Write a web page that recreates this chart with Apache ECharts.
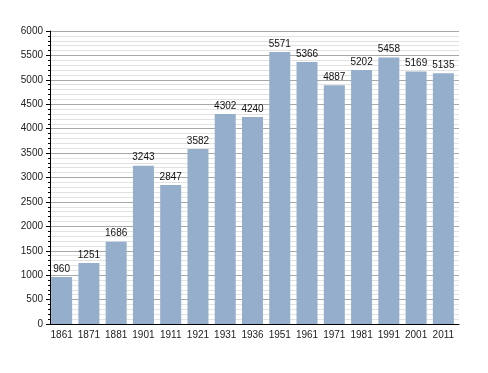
<!DOCTYPE html>
<html><head><meta charset="utf-8">
<script src="https://cdn.jsdelivr.net/npm/echarts@6/dist/echarts.min.js"></script>
<style>html,body{margin:0;padding:0;background:#fff}#c{width:488px;height:373px}</style>
</head><body><div id="c"></div>
<script>
const categories = ['1861','1871','1881','1901','1911','1921','1931','1936','1951','1961','1971','1981','1991','2001','2011'];
const population = [960,1251,1686,3243,2847,3582,4302,4240,5571,5366,4887,5202,5458,5169,5135];
const yMin = 0, yMax = 6000, yStep = 500;

const font = 'Liberation Sans, Arial';
const chart = echarts.init(document.getElementById('c'));
chart.setOption({
  animation: false,
  grid: [
    {left: 50, right: 29, top: 31, bottom: 49},
    {left: 48, right: 31, top: 31, bottom: 49}
  ],
  xAxis: [
    {type: 'category', gridIndex: 0, data: categories,
     axisLine: {lineStyle: {color: '#000', width: 1}},
     axisTick: {show: false}, axisLabel: {show: false}},
    {type: 'category', gridIndex: 1, data: categories,
     axisLine: {show: false}, axisTick: {show: false},
     axisLabel: {interval: 0, color: '#222', fontSize: 10, fontFamily: font, margin: 6}}
  ],
  yAxis: [
    {type: 'value', gridIndex: 0, min: yMin, max: yMax, interval: yStep,
     axisLine: {show: true, lineStyle: {color: '#000', width: 1}},
     axisTick: {show: true, length: 4, lineStyle: {color: '#000'}},
     minorTick: {show: true, splitNumber: 5, length: 2, lineStyle: {color: '#000'}},
     splitLine: {lineStyle: {color: '#a8a8a8', width: 1}},
     minorSplitLine: {show: true, lineStyle: {color: '#e2e2e2', width: 1}},
     axisLabel: {color: '#222', fontSize: 10, fontFamily: font, margin: 7, formatter: v => String(v)}},
    {type: 'value', gridIndex: 1, min: yMin, max: yMax, interval: yStep, show: false,
     splitLine: {show: false}}
  ],
  series: [{
    type: 'bar', xAxisIndex: 1, yAxisIndex: 1, data: population,
    barCategoryGap: '23%', z: 3,
    itemStyle: {color: '#94aecb'},
    label: {show: true, position: 'top', color: '#111', fontSize: 10, fontFamily: font, distance: 3}
  }]
});
</script></body></html>
